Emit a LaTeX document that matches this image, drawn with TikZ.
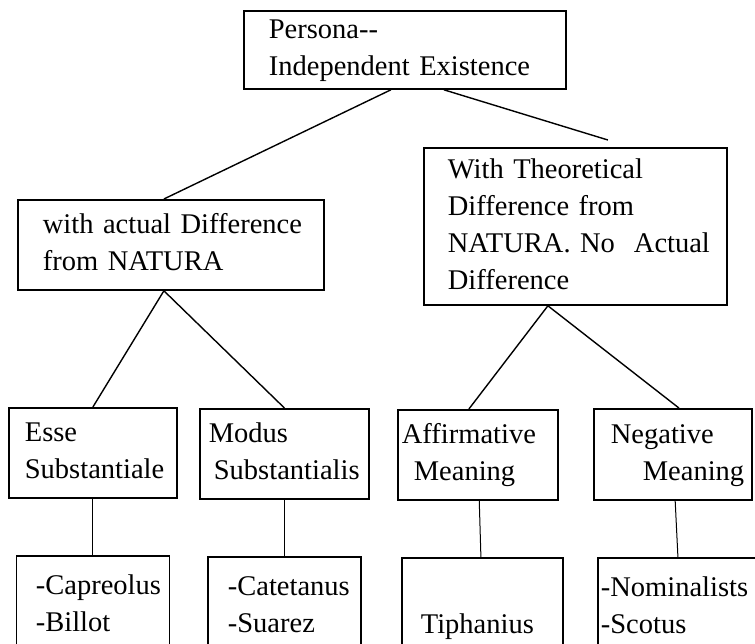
\documentclass[tikz,border=0pt]{standalone}
\usepackage{fontspec}
\setmainfont{Liberation Serif}
\usetikzlibrary{positioning, calc}

\begin{document}
\begin{tikzpicture}[
    x=1pt, y=-1pt,
    box/.style={
      draw,
      line width=1.8pt,
      anchor=north west,
      align=left,
      inner xsep=0pt,
      inner ysep=0pt,
      font=\fontsize{28.5}{37}\selectfont,
      execute at end node=\strut,
    },
    pad/.style={execute at begin node={\leftskip=#1\relax\strut}},
    link/.style={line width=1.4pt},
    stem/.style={line width=1pt},
  ]
  \useasboundingbox (0,0) rectangle (755,643);
  \clip (0,0) rectangle (755,643);

  % upper levels
  \node[box, minimum width=322, text width=322, minimum height=78, pad=25pt] (persona) at (243,10)
    {Persona-{}-\\Independent Existence};
  \node[box, minimum width=306, text width=306, minimum height=90, pad=25pt] (actual) at (17,199)
    {with actual Difference\\from NATURA};
  \node[box, minimum width=303, text width=303, minimum height=157, pad=24pt] (theory) at (423,147)
    {With Theoretical\\Difference from\\NATURA. No\ \ Actual\\Difference};

  % middle level
  \node[box, minimum width=168, text width=168, minimum height=90, pad=16pt] (esse) at (8,407)
    {Esse\\Substantiale};
  \node[box, minimum width=169, text width=169, minimum height=90, pad=9pt] (modus) at (199,408)
    {Modus\\\hspace*{5pt}Substantialis};
  \node[box, minimum width=160, text width=160, minimum height=90, pad=4pt] (affirm) at (397,409)
    {Affirmative\\\hspace*{12pt}Meaning};
  \node[box, minimum width=158, text width=158, minimum height=91, pad=17pt] (negat) at (593,408)
    {Negative\\\hspace*{32pt}Meaning};

  % names
  \node[box, minimum width=153, text width=153, minimum height=100, pad=19.5pt, below=56pt of esse] (capreolus)
    {-Capreolus\\-Billot};
  \node[box, minimum width=153, text width=153, minimum height=100, pad=20pt, below=56pt of modus] (catetanus)
    {-Catetanus\\-Suarez};
  \node[box, minimum width=161, text width=161, minimum height=100, pad=19pt, below=56pt of affirm, xshift=4.5pt] (tiphanius)
    {\\Tiphanius};
  \node[box, minimum width=165, text width=165, minimum height=100, pad=3pt, below=56pt of negat, xshift=7.5pt] (nominal)
    {-Nominalists\\-Scotus};

  \draw[link] ($(persona.south)+(-14,0)$) -- ($(actual.north)+(-7,0)$);
  \draw[link] ($(persona.south)+(39,0)$) -- ($(theory.north)+(32.5,-7)$);
  \draw[link] ($(actual.south)+(-7,0)$) -- (esse.north);
  \draw[link] ($(actual.south)+(-7,0)$) -- (modus.north);
  \draw[link] ($(theory.south)+(-27.5,0)$) -- ($(affirm.north)+(-9,0)$);
  \draw[link] ($(theory.south)+(-27.5,0)$) -- ($(negat.north)+(6,0)$);

  \draw[stem] (esse) -- (capreolus);
  \draw[stem] (modus) -- (catetanus);
  \draw[stem] (affirm) -- (tiphanius);
  \draw[stem] (negat) -- (nominal);
\end{tikzpicture}
\end{document}
